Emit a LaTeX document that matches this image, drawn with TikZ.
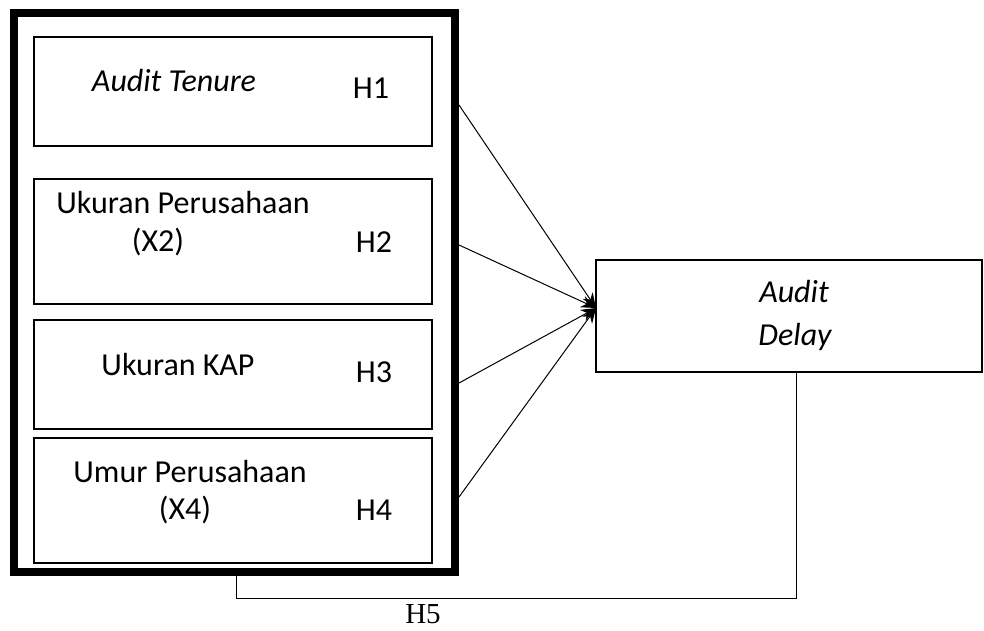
\documentclass[tikz,border=0pt]{standalone}
\usepackage{fontspec}
\setmainfont{Carlito}
\newfontfamily\timesfont{Liberation Serif}
\usetikzlibrary{arrows.meta}
\tikzset{
  box/.style={draw, line width=1.5pt, minimum width=398pt, inner sep=0pt},
  lbl/.style={anchor=base, inner sep=0pt, font=\fontsize{32}{38}\selectfont},
}
\begin{document}
\begin{tikzpicture}[x=1pt, y=-1pt, >={Stealth[length=15pt,width=12pt]}]
  \useasboundingbox (0,0) rectangle (984,630);
  % 1. frame and variable boxes
  \node[draw, line width=8pt, minimum width=441pt, minimum height=559pt, inner sep=0pt] (frame) at (234.5,292.5) {};
  \node[box, minimum height=109pt] (tenure) at (233,91.5) {};
  \node[box, minimum height=125pt] (size) at (233,241.5) {};
  \node[box, minimum height=109pt] (kap) at (233,374.5) {};
  \node[box, minimum height=125pt] (age) at (233,500.5) {};
  \node[draw, line width=2pt, minimum width=386pt, minimum height=112pt, inner sep=0pt] (delay) at (789,316) {};

  % 2. texts
  \node[lbl] (t1) at (174,91) {\itshape Audit Tenure};
  \node[lbl] (h1) at (371,98) {H1};
  \node[lbl] (t2) at (183,213) {Ukuran Perusahaan};
  \node[lbl] (t2b) at (158,251) {(X2)};
  \node[lbl] (h2) at (374,252) {H2};
  \node[lbl] (t3) at (178,375) {Ukuran KAP};
  \node[lbl] (h3) at (374,382) {H3};
  \node[lbl] (t4) at (190,482) {Umur Perusahaan};
  \node[lbl] (t4b) at (185,519) {(X4)};
  \node[lbl] (h4) at (374,520) {H4};
  \node[lbl] (d1) at (794,302) {\itshape Audit};
  \node[lbl] (d2) at (795,345) {\itshape Delay};
  \node[lbl, font=\timesfont\fontsize{29}{34}\selectfont] (h5) at (423,623) {H5};

  % 3. connectors
  \coordinate (s1) at (459,105);
  \coordinate (s2) at (459,245);
  \coordinate (s3) at (459,383);
  \coordinate (s4) at (459,497);
  \coordinate (tip) at (596,308);
  \foreach \s in {s1,s2,s3,s4}
    \draw[->, line width=1pt] (\s) -- (tip);
  \coordinate (h5a) at (236,598);
  \draw[line width=1pt] (frame.south -| h5a) -- (h5a) -| ([xshift=7pt]delay.south);
\end{tikzpicture}
\end{document}
